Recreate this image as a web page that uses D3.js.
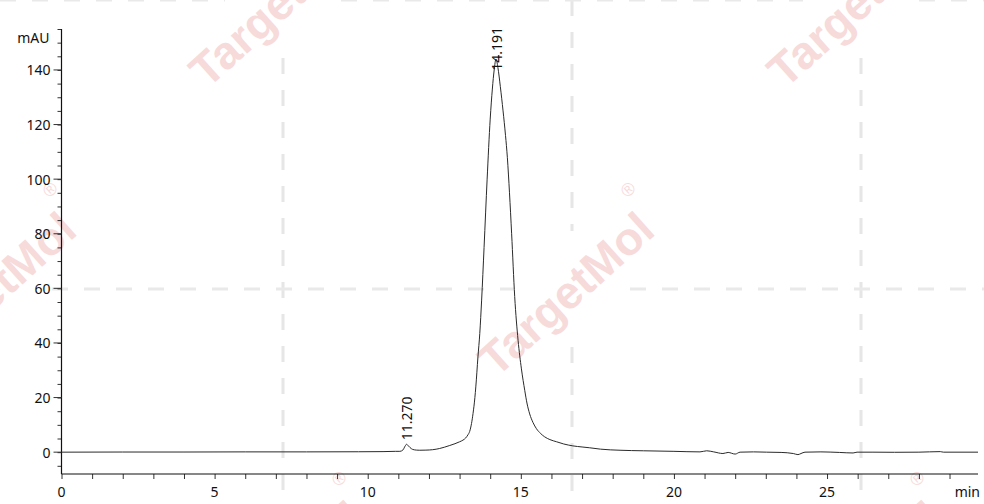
<!DOCTYPE html>
<html lang="en">
<head>
<meta charset="UTF-8">
<title>HPLC chromatogram</title>
<script src="https://d3js.org/d3.v7.min.js"></script>
<style>
    body { margin: 0; background: #fff; }
    svg { display: block; }
    .tick-label { font-family: "Noto Sans", sans-serif; font-size: 14px; fill: #111; }
    .peak-label { font-family: "Noto Sans", sans-serif; font-size: 14px; fill: #111; }
    .wm-text { font-family: "Liberation Sans", Arial, sans-serif; font-weight: bold; font-size: 46px; fill: rgb(247, 218, 218); }
    .wm-reg { font-family: "Liberation Sans", Arial, sans-serif; font-size: 18px; fill: rgb(247, 218, 218); }
</style>
</head>
<body>
<svg id="chart" width="984" height="504"></svg>
<script>
// retention time (min) and detector signal (mAU)
const retentionTimes = [0, 2, 4, 6, 8, 9.7, 10.5, 10.9, 11.05, 11.15, 11.22, 11.27, 11.32, 11.38, 11.47,
    11.6, 11.7, 11.9, 12.12, 12.35, 12.5, 12.68, 12.85, 13.0, 13.11, 13.2, 13.27, 13.33, 13.39, 13.44,
    13.5, 13.53, 13.6, 13.66, 13.72, 13.8, 13.9, 14.0, 14.07, 14.13, 14.19, 14.25, 14.33, 14.42, 14.5,
    14.56, 14.63, 14.7, 14.8, 14.91, 15.02, 15.13, 15.2, 15.29, 15.4, 15.51, 15.65, 15.78, 15.95, 16.17,
    16.4, 16.7, 17.0, 17.25, 17.6, 18.24, 19.0, 20.0, 20.85, 21.07, 21.3, 21.6, 21.77, 22.0, 22.16,
    22.6, 23.03, 23.5, 23.9, 24.05, 24.15, 24.28, 24.8, 25.4, 25.85, 25.98, 26.5, 27.2, 28.0, 28.7,
    28.8, 29.93];
const absorbance = [0.0, 0.05, 0.05, 0.1, 0.1, 0.15, 0.2, 0.3, 0.3, 0.8, 2.2, 2.9, 2.4, 1.7, 1.0,
    0.75, 0.7, 0.75, 0.9, 1.35, 1.8, 2.45, 3.1, 3.8, 4.4, 5.2, 6.3, 7.6, 10.5, 14.2,
    20, 23.9, 34.9, 43.5, 55.7, 75, 100, 122, 133, 140, 144, 141, 134, 125, 116,
    108, 95, 80, 57, 41, 30.5, 22.5, 18, 14, 10.8, 8.6, 6.8, 5.6, 4.6, 3.8,
    3.0, 2.3, 1.9, 1.6, 1.1, 0.7, 0.5, 0.3, 0.1, 0.5, 0.1, -0.5, -0.1, -0.7, 0.0,
    0.1, 0.0, -0.1, -0.5, -0.9, -0.5, 0.0, 0.1, -0.1, -0.3, 0.0, 0.0, -0.05, 0.0, 0.2,
    0.0, 0.0];

// integrated peaks
const peakTimes = [11.270, 14.191];
const peakHeights = [2.9, 144];
const peakLabels = ["11.270", "14.191"];

// axis ticks
const xMajorTicks = [0, 5, 10, 15, 20, 25];
const xMinorTicks = d3.range(0, 30, 1);
const yMajorTicks = [0, 20, 40, 60, 80, 100, 120, 140];
const yMinorTicks = d3.range(-5, 156, 5);

const width = 984, height = 504;
const plot = { left: 61.5, right: 978, top: 29, bottom: 474 };

const svg = d3.select("#chart");

// ---- watermark (tiled TargetMol logo with dashed guide lines) ----
const wm = svg.append("g").attr("class", "watermark");
const tileX = [-6, 283, 572, 861];
const tileY = [0, 289, 578];
const marks = [];
tileY.forEach((ty, r) => tileX.forEach((tx, c) => { if ((r + c) % 2 === 1) marks.push([tx, ty]); }));
const gap = 58;

// cut a [start, end] span around each logo sitting on the guide
function openings(span, holes) {
    let segs = [span];
    holes.forEach(h => {
        segs = segs.flatMap(([a, b]) => {
            const out = [];
            if (h - gap > a) out.push([a, Math.min(b, h - gap)]);
            if (h + gap < b) out.push([Math.max(a, h + gap), b]);
            return out;
        });
    });
    return segs;
}

// vertical guides
tileX.slice(1).forEach(tx => {
    const holes = marks.filter(m => m[0] === tx).map(m => m[1]);
    openings([0, height], holes).forEach(([a, b]) => wm.append("line")
        .attr("x1", tx).attr("x2", tx).attr("y1", a).attr("y2", b)
        .attr("stroke", "#e6e6e6").attr("stroke-width", 3).attr("stroke-dasharray", "16 16"));
});
// horizontal guides
tileY.slice(0, 2).forEach(ty => {
    const holes = marks.filter(m => m[1] === ty).map(m => m[0]);
    openings([0, width], holes).forEach(([a, b]) => wm.append("line")
        .attr("x1", a).attr("x2", b).attr("y1", ty).attr("y2", ty)
        .attr("stroke", "#e9e9e9").attr("stroke-width", 3).attr("stroke-dasharray", "16 16"));
});
marks.forEach(([mx, my]) => {
    const g = wm.append("g").attr("transform", `translate(${mx - 6},${my + 5}) rotate(-42)`);
    g.append("text").attr("class", "wm-text")
        .attr("text-anchor", "middle").attr("dominant-baseline", "central")
        .text("TargetMol");
    g.append("text").attr("class", "wm-reg")
        .attr("x", 116).attr("y", -36)
        .attr("text-anchor", "middle").attr("dominant-baseline", "central")
        .text("®");
});

// ---- scales ----
const x = d3.scaleLinear().domain([0, 29.93]).range([plot.left, plot.right]);
const y = d3.scaleLinear().domain([-8, 155]).range([plot.bottom, plot.top]);

// ---- axes ----
const xAxis = svg.append("g").attr("transform", `translate(0,${plot.bottom})`);
xAxis.call(d3.axisBottom(x).tickValues(xMinorTicks).tickSize(5).tickFormat(""));
xAxis.select(".domain").remove();
xAxis.append("line").attr("x1", plot.left).attr("x2", plot.right)
    .attr("stroke", "#111").attr("stroke-width", 1.2);
xAxis.selectAll(".tick line").attr("stroke", "#333");
xAxis.selectAll(".xl").data(xMajorTicks).enter().append("text")
    .attr("class", "tick-label")
    .attr("x", d => x(d)).attr("y", 17)
    .attr("text-anchor", "middle").attr("dominant-baseline", "central")
    .text(d => d);
svg.append("text").attr("class", "tick-label")
    .attr("x", 980).attr("y", plot.bottom + 17)
    .attr("text-anchor", "end").attr("dominant-baseline", "central")
    .text("min");

const yAxis = svg.append("g").attr("transform", `translate(${plot.left},0)`);
yAxis.call(d3.axisLeft(y).tickValues(yMinorTicks).tickSize(4).tickFormat(""));
yAxis.select(".domain").remove();
yAxis.append("line").attr("y1", plot.top).attr("y2", plot.bottom)
    .attr("stroke", "#111").attr("stroke-width", 1.2);
yAxis.selectAll(".tick line").attr("stroke", "#333");
yAxis.selectAll(".ym").data(yMajorTicks).enter().append("line")
    .attr("x1", -8).attr("x2", 0)
    .attr("y1", d => y(d)).attr("y2", d => y(d))
    .attr("stroke", "#333");
yAxis.selectAll(".yl").data(yMajorTicks).enter().append("text")
    .attr("class", "tick-label")
    .attr("x", -11).attr("y", d => y(d))
    .attr("text-anchor", "end").attr("dominant-baseline", "central")
    .text(d => d);
svg.append("text").attr("class", "tick-label")
    .attr("x", plot.left - 12).attr("y", 37)
    .attr("text-anchor", "end").attr("dominant-baseline", "central")
    .text("mAU");

// ---- trace ----
const points = retentionTimes.map((t, i) => [t, absorbance[i]]);
const line = d3.line()
    .x(d => x(d[0]))
    .y(d => y(d[1]))
    .curve(d3.curveMonotoneX);
svg.append("path")
    .datum(points)
    .attr("fill", "none")
    .attr("stroke", "#2a2a2a")
    .attr("stroke-width", 1)
    .attr("d", line);

// ---- peak labels (kept inside the plot top) ----
peakTimes.forEach((t, i) => {
    const lbl = svg.append("text").attr("class", "peak-label")
        .attr("dominant-baseline", "central")
        .text(peakLabels[i]);
    const len = lbl.node().getComputedTextLength();
    let bottom = y(peakHeights[i]) - 4;
    if (bottom - len < plot.top - 2) bottom = plot.top - 2 + len;
    lbl.attr("transform", `translate(${x(t)},${bottom}) rotate(-90)`);
});
</script>
</body>
</html>
